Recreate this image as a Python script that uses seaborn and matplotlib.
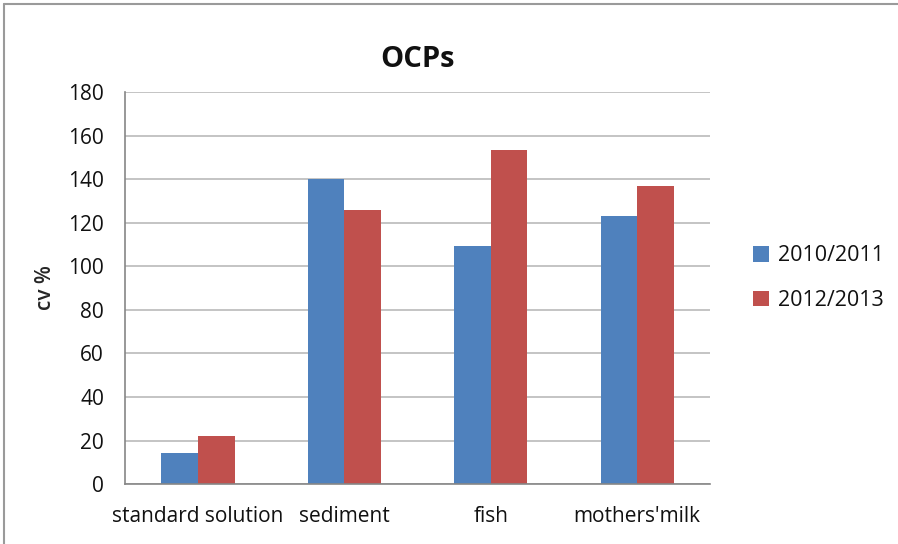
import pandas as pd
import matplotlib.pyplot as plt
import seaborn as sns
from matplotlib.lines import Line2D

categories = ["standard solution", "sediment", "fish", "mothers'milk"]
cv_2010 = [14.5, 140, 109.5, 123]
cv_2012 = [22, 126, 153.5, 137]
series_names = ["2010/2011", "2012/2013"]
colors = ["#4F81BD", "#C0504D"]

df = pd.DataFrame({
    "sample": categories * 2,
    "cv": cv_2010 + cv_2012,
    "period": [series_names[0]] * 4 + [series_names[1]] * 4,
})

sns.set_style("white")
plt.rcParams['font.family'] = ['Open Sans', 'DejaVu Sans']
plt.rcParams['text.color'] = '#111111'
plt.rcParams['xtick.labelcolor'] = '#111111'
plt.rcParams['ytick.labelcolor'] = '#111111'

fig = plt.figure(figsize=(8.98, 5.44), dpi=100)
ax = fig.add_axes([0.139, 0.110, 0.652, 0.721])

sns.barplot(data=df, x="sample", y="cv", hue="period", palette=colors,
            width=0.5, gap=0, saturation=1, ax=ax, edgecolor="none")

ax.set_ylim(0, 180)
ax.set_yticks(range(0, 181, 20))
ax.set_xlim(-0.5, 3.5)
ax.yaxis.grid(True, color="#BFBFBF", linewidth=1.3)
ax.set_axisbelow(True)
for s in ["top", "right"]:
    ax.spines[s].set_visible(False)
for s in ["left", "bottom"]:
    ax.spines[s].set_color("#868686")
    ax.spines[s].set_linewidth(1.2)

# category separators
ax.set_xticks([-0.5, 0.5, 1.5, 2.5, 3.5], minor=True)
ax.tick_params(axis="x", which="minor", length=6, color="#868686", width=1.2)
ax.tick_params(axis="x", which="major", length=0, labelsize=15, pad=16)
ax.tick_params(axis="y", length=5, color="#868686", width=1.2, labelsize=15, pad=10)

ax.set_xlabel("")
ax.set_ylabel("cv %", fontsize=15, labelpad=9, fontweight="semibold")
ax.set_title("OCPs", fontsize=21, fontweight="bold", pad=18)

ax.legend(loc="center left", bbox_to_anchor=(1.04, 0.525), frameon=False,
          fontsize=15.5, handlelength=0.75, handleheight=0.75, labelspacing=1.1,
          handletextpad=0.4)

# chart frame (left and top edges visible)
fig.add_artist(Line2D([0.005, 0.005], [0.0, 0.993], color="#9A9A9A", linewidth=1.5))
fig.add_artist(Line2D([0.005, 1.0], [0.993, 0.993], color="#9A9A9A", linewidth=1.5))

fig.savefig("out.png", dpi=100)
